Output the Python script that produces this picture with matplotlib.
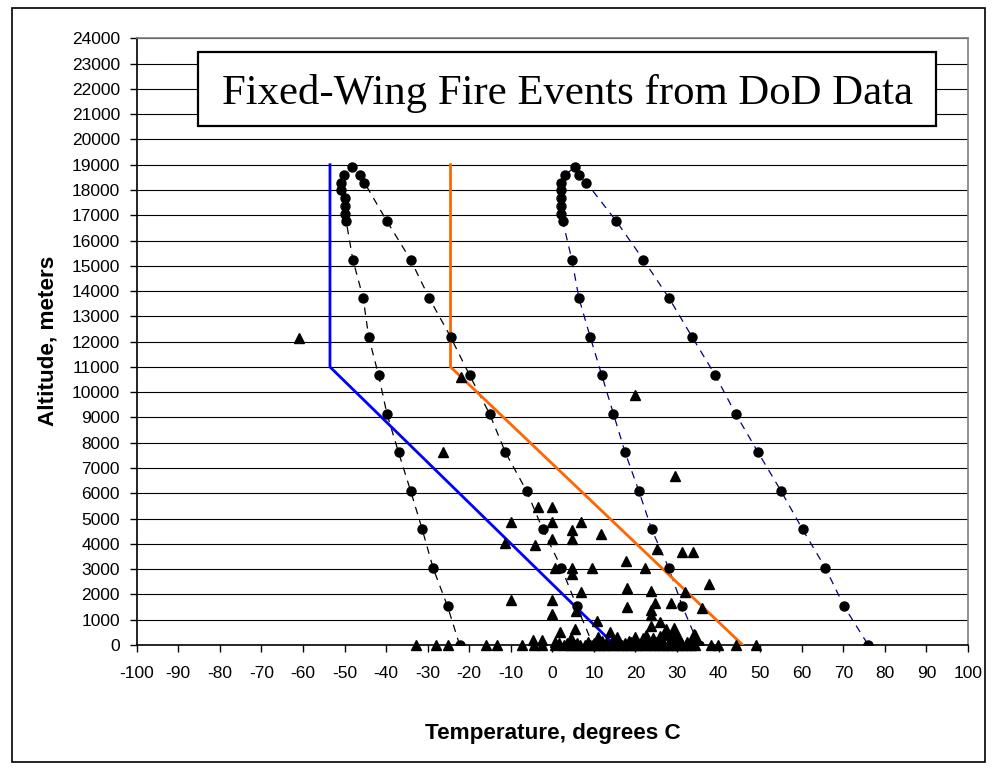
import matplotlib
matplotlib.use("Agg")
import matplotlib.pyplot as plt
from matplotlib.patches import Rectangle

# ---------------- data ----------------
# altitude levels (m) of the atmosphere-profile points
alt_up = [0, 1524, 3048, 4572, 6096, 7620, 9144, 10668, 12192, 13716, 15240,
          16764, 17068, 17373, 17678, 17983, 18288, 18593, 18898]
alt_down = [18593, 18288, 16764, 15240, 13716, 12192, 10668, 9144, 7620,
            6096, 4572, 3048, 1524, 0]

# left (black dashed) envelope
left_up_T = [-22.3, -25.2, -28.7, -31.3, -34.1, -37.0, -39.8, -41.8, -44.2,
             -45.5, -48.0, -49.6, -50.0, -50.0, -50.0, -50.8, -50.8, -50.2, -48.1]
left_down_T = [-46.2, -45.2, -39.8, -34.1, -29.6, -24.5, -19.9, -15.1, -11.3,
               -6.2, -2.3, 2.2, 5.9, 9.8]

# right (navy dashed) envelope
right_up_T = [35.2, 31.3, 28.0, 23.9, 20.8, 17.5, 14.7, 11.9, 9.1,
              6.4, 4.7, 2.5, 2.0, 2.0, 2.0, 2.0, 2.0, 3.0, 5.4]
right_down_T = [6.4, 8.2, 15.4, 21.9, 28.1, 33.6, 39.2, 44.1, 49.5,
                55.0, 60.2, 65.7, 70.2, 76.0]

# solid profiles
blue_T = [15.0, -53.5, -53.5]
blue_alt = [0, 11000, 19000]
orange_T = [45.8, -24.5, -24.5]
orange_alt = [0, 11000, 19000]

# fire events (triangles)
event_T = [-61.0, -22.0, 19.8, -26.3, 29.6, -3.5, 0.0, -10.0, 0.0, 7.0, 4.8, 11.7,
           0.0, 4.8, -11.3, -4.2, 25.1, 31.1, 33.8, 17.6, 0.6, 4.8, 4.8, 9.6, 22.4,
           37.6, 18.0, 23.8, 32.0, 7.0, -10.0, 0.0, 24.8, 28.6, 18.0, 36.0, 23.8,
           5.8, 0.0, 23.8, 25.8, 10.7, 23.8, 5.4, 27.4, 29.2, 13.8, 1.8, 34.0, 29.4,
           4.6, 21.8, 24.2, 28.6, 34.2, -4.7, -2.4, 0.6, 19.0,
           -32.8, -27.9, -25.1, -15.9, -13.2, -7.2, -4.3, -2.4, 0.7, 2.7, 4.2, 5.5,
           6.6, 7.8, 9.0, 10.2, 11.3, 12.4, 13.5, 14.6, 15.7, 16.8, 17.9, 19.0, 20.1,
           21.2, 22.3, 23.4, 24.5, 25.6, 26.7, 27.8, 28.9, 30.0, 31.1, 32.2, 33.3,
           34.4, 38.2, 39.8, 44.1, 48.9,
           1.5, 3.5, 6.0, 8.5, 10.0, 12.0, 13.0, 14.5, 16.0, 17.5, 18.5, 20.5, 22.0,
           23.0, 25.0, 26.5, 28.0, 29.5, 31.0, 32.5, 33.5, 11.0, 15.5, 20.0, 26.0,
           30.5, 22.5, 27.0]
event_alt = [12150, 10600, 9870, 7620, 6670, 5460, 5460, 4850, 4850, 4850, 4540, 4410,
             4210, 4210, 4050, 3950, 3790, 3660, 3660, 3330, 3050, 3050, 2790, 3050, 3050,
             2410, 2260, 2130, 2100, 2080, 1790, 1790, 1670, 1670, 1510, 1450, 1380,
             1330, 1220, 1180, 900, 940, 740, 650, 630, 680, 525, 500, 450, 470,
             265, 265, 265, 395, 395, 200, 200, 130, 130,
             0, 0, 0, 0, 0, 0, 0, 0, 0, 0, 0, 0,
             0, 0, 0, 0, 0, 0, 0, 0, 0, 0, 0, 0, 0,
             0, 0, 0, 0, 0, 0, 0, 0, 0, 0, 0, 0,
             0, 0, 0, 0, 0,
             60, 90, 60, 120, 70, 150, 60, 200, 100, 60, 160, 90, 140,
             60, 120, 180, 90, 150, 60, 110, 220, 300, 330, 300, 340,
             260, 380, 420]

x_ticks = list(range(-100, 101, 10))
y_ticks = list(range(0, 24001, 1000))
title_text = "Fixed-Wing Fire Events from DoD Data"
x_label = "Temperature, degrees C"
y_label = "Altitude, meters"

# ---------------- figure ----------------
W, H = 997, 771
fig = plt.figure(figsize=(W / 100, H / 100), dpi=100)
fig.patch.set_facecolor("white")

# outer frame
fig.patches.append(Rectangle((12 / W, 1 - 762 / H), (985 - 12) / W, (762 - 8) / H,
                             transform=fig.transFigure, fill=False,
                             edgecolor="black", lw=1.2, zorder=0))

left_px, right_px, top_px, bot_px = 136.7, 968.0, 38.3, 645.0
ax = fig.add_axes([left_px / W, 1 - bot_px / H, (right_px - left_px) / W,
                   (bot_px - top_px) / H])
ax.set_xlim(-100, 100)
ax.set_ylim(0, 24000)

ax.set_xticks(x_ticks)
ax.set_yticks(y_ticks)
ax.set_xticklabels([str(v) for v in x_ticks], fontsize=12.5, family="Liberation Sans")
ax.set_yticklabels([str(v) for v in y_ticks], fontsize=12.5, family="Liberation Sans")
ax.tick_params(axis="x", direction="out", length=5, width=1, pad=10)
ax.tick_params(axis="y", direction="out", length=5, width=1, pad=7)

ax.grid(axis="y", color="black", lw=0.8, zorder=0)
ax.set_axisbelow(True)
for s in ["top", "right"]:
    ax.spines[s].set_color("#808080")
    ax.spines[s].set_linewidth(1.2)
for s in ["left", "bottom"]:
    ax.spines[s].set_color("black")
    ax.spines[s].set_linewidth(1.2)

# dashed envelopes
lx = left_up_T + left_down_T
ly = alt_up + alt_down
rx = right_up_T + right_down_T
ry = alt_up + alt_down
ax.plot(lx, ly, color="black", lw=0.9, ls=(0, (6, 5)), zorder=3)
ax.plot(rx, ry, color="#000080", lw=0.9, ls=(0, (6, 5)), zorder=3)

# solid profiles
ax.plot(blue_T, blue_alt, color="#0000FF", lw=2.0, zorder=4, solid_joinstyle="miter")
ax.plot(orange_T, orange_alt, color="#FF6600", lw=2.0, zorder=4, solid_joinstyle="miter")

# circle markers
ax.plot(lx, ly, ls="none", marker="o", ms=6.5, color="black", zorder=5)
ax.plot(rx, ry, ls="none", marker="o", ms=6.5, color="black", zorder=5)

# fire events
ax.plot(event_T, event_alt, ls="none", marker="^", ms=7.5, color="black",
        zorder=6, clip_on=False)

# title box
fig.patches.append(Rectangle((198 / W, 1 - 126 / H), (936 - 198) / W, (126 - 52) / H,
                             transform=fig.transFigure, facecolor="white",
                             edgecolor="black", lw=1.6, zorder=9))
fig.text(567 / W, 1 - 104 / H, title_text, fontsize=30.8, family="Liberation Serif",
         ha="center", va="baseline", zorder=10)

fig.text(48 / W, 1 - 341 / H, y_label, rotation=90, fontsize=16.2, fontweight="bold",
         family="Liberation Sans", ha="center", va="center")
fig.text(553 / W, 1 - 733 / H, x_label, fontsize=16.2, fontweight="bold",
         family="Liberation Sans", ha="center", va="center")

fig.savefig("out.png", dpi=100, facecolor="white")
